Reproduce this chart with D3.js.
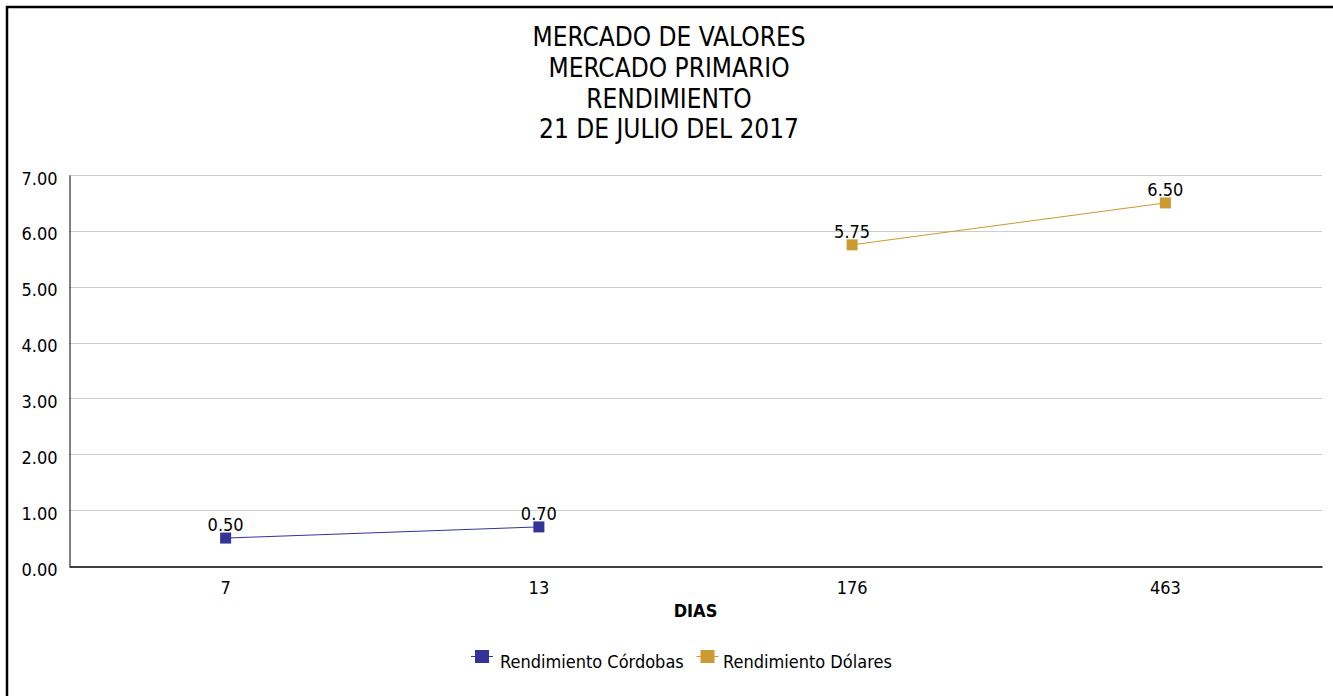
<!DOCTYPE html>
<html><head><meta charset="utf-8">
<script src="https://cdn.jsdelivr.net/npm/d3@7"></script>
<style>
html,body{margin:0;padding:0;background:#fff;}
svg{display:block;}
text{font-family:"DejaVu Sans Condensed","DejaVu Sans",sans-serif;fill:#000;}
</style></head>
<body>
<svg id="c" width="1333" height="696"></svg>
<script>
const titleLines = ["MERCADO DE VALORES","MERCADO PRIMARIO","RENDIMIENTO","21 DE JULIO DEL 2017"];
const categories = ["7","13","176","463"];
const seriesNames = ["Rendimiento Córdobas","Rendimiento Dólares"];
const cordobas = [0.50, 0.70, null, null];
const dolares = [null, null, 5.75, 6.50];
const yTicks = [0,1,2,3,4,5,6,7];
const colors = ["#333399","#CC9933"];
const xTitle = "DIAS";

const svg = d3.select("#c");
// frame
svg.append("rect").attr("x",7).attr("y",7).attr("width",1340).attr("height",700)
  .attr("fill","none").attr("stroke","#000").attr("stroke-width",2.5);

const m = {l:69, r:1322, t:175, b:566};
const x = d3.scaleBand().domain(categories).range([m.l,m.r]);
const y = d3.scaleLinear().domain([0,7]).range([m.b,m.t]);

// title
svg.append("g").selectAll("text").data(titleLines).join("text")
  .attr("x",669).attr("y",(d,i)=>46+i*30.8).attr("text-anchor","middle")
  .style("font-size","26px").text(d=>d);

// grid
svg.append("g").selectAll("line").data(yTicks.filter(d=>d>0)).join("line")
  .attr("x1",m.l).attr("x2",m.r).attr("y1",d=>Math.round(y(d))+0.5).attr("y2",d=>Math.round(y(d))+0.5)
  .attr("stroke","#cccccc").attr("stroke-width",1);

// y axis
const ya = svg.append("g").attr("transform",`translate(${m.l+0.5},0)`)
  .call(d3.axisLeft(y).tickValues(yTicks).tickFormat(d3.format(".2f")).tickSize(0).tickPadding(12));
ya.select(".domain").attr("stroke","#000");
ya.selectAll("text").style("font-size","18px").attr("fill","#000").attr("dy","9px");

// x axis
const xa = svg.append("g").attr("transform",`translate(0,${m.b+0.5})`)
  .call(d3.axisBottom(x).tickSize(0).tickPadding(0));
xa.select(".domain").attr("stroke","#000").attr("stroke-width",1.5);
xa.selectAll("text").style("font-size","18px").attr("fill","#000").attr("dy","27px");

svg.append("text").attr("x",(m.l+m.r)/2).attr("y",617).attr("text-anchor","middle")
  .style("font-size","18px").style("font-weight","bold").text(xTitle);

// series
[cordobas,dolares].forEach((vals,si)=>{
  const pts = categories.map((c,i)=>({c,v:vals[i]})).filter(p=>p.v!=null);
  const line = d3.line().x(p=>x(p.c)+x.bandwidth()/2).y(p=>y(p.v));
  svg.append("path").datum(pts).attr("d",line).attr("fill","none")
    .attr("stroke",colors[si]).attr("stroke-width",1);
  svg.append("g").selectAll("rect").data(pts).join("rect")
    .attr("x",p=>x(p.c)+x.bandwidth()/2-5.5).attr("y",p=>y(p.v)-5.5)
    .attr("width",11).attr("height",11).attr("fill",colors[si]);
  svg.append("g").selectAll("text").data(pts).join("text")
    .attr("x",p=>x(p.c)+x.bandwidth()/2).attr("y",p=>y(p.v)-7)
    .attr("text-anchor","middle").style("font-size","18px").text(p=>p.v.toFixed(2));
});

// legend
const legCx = [482, 707.5];
const legTx = [500, 723];
seriesNames.forEach((n,i)=>{
  const g = svg.append("g");
  g.append("line").attr("x1",legCx[i]-11).attr("x2",legCx[i]+11).attr("y1",656.5).attr("y2",656.5).attr("stroke",colors[i]);
  g.append("rect").attr("x",legCx[i]-7).attr("y",650).attr("width",14).attr("height",13).attr("fill",colors[i]);
  g.append("text").attr("x",legTx[i]).attr("y",668).style("font-size","18px").text(n);
});
</script>
</body></html>
